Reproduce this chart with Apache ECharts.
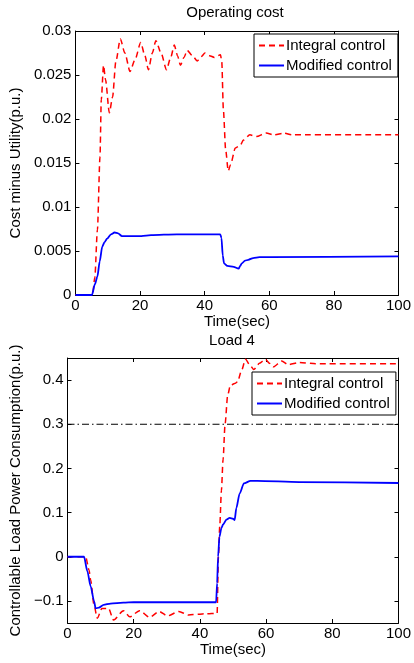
<!DOCTYPE html>
<html>
<head>
<meta charset="utf-8">
<script src="https://cdn.jsdelivr.net/npm/echarts@6/dist/echarts.min.js"></script>
<style>html,body{margin:0;padding:0;background:#fff;}#c{width:414px;height:663px;}</style>
</head>
<body>
<div id="c"></div>
<script>
// ---- Data ----
var topTitle = 'Operating cost';
var bottomTitle = 'Load 4';
var seriesNames = ['Integral control', 'Modified control'];
var xTicks = [0, 20, 40, 60, 80, 100];
var topYTicks = [0, 0.005, 0.01, 0.015, 0.02, 0.025, 0.03];
var bottomYTicks = [-0.1, 0, 0.1, 0.2, 0.3, 0.4];
var limitValue = 0.3;

// Operating cost, integral control
var topIntT = [0,5.3,6.0,6.8,7.6,8.0,8.7,9.3,10.5,11.5,12.5,13.9,15.3,16.9,18.5,20.2,21.5,22.6,23.8,24.9,26.5,28.2,29.5,30.6,31.6,32.5,33.6,34.6,36.2,37.7,39.0,40.1,41.5,43.0,44.9,45.3,45.8,46.5,47.3,48.0,49.5,51.0,52.0,54.0,56.0,59.0,61.5,64.6,67.0,100];
var topIntV = [0,0,0.002,0.0074,0.0157,0.0222,0.0261,0.0245,0.0207,0.0225,0.0265,0.0291,0.0275,0.0254,0.0268,0.0287,0.0272,0.0256,0.0275,0.0289,0.0275,0.0256,0.0270,0.0284,0.0272,0.0261,0.0270,0.0278,0.0272,0.0266,0.0271,0.0275,0.0272,0.0270,0.0273,0.0265,0.0210,0.0165,0.0141,0.0148,0.0167,0.0170,0.0176,0.0182,0.0180,0.0184,0.0182,0.0184,0.0182,0.0182];
// Operating cost, modified control
var topModT = [0,5.1,6.0,6.8,7.5,8.3,9.0,9.8,11.0,12.1,13.2,14.4,17,20.4,23.4,31.4,44.8,45.2,45.6,46.0,47.0,49.0,50.5,51.0,51.5,52.5,53.5,55,57,60,100];
var topModV = [0,0,0.0012,0.0021,0.0038,0.0055,0.0060,0.0064,0.0069,0.0071,0.0070,0.0067,0.0067,0.0067,0.0068,0.0069,0.0069,0.0065,0.0045,0.0036,0.0033,0.0032,0.0030,0.0033,0.0036,0.0039,0.0040,0.0042,0.0043,0.0043,0.0044];
// Load 4, integral control
var botIntT = [0,5.5,6.5,7,8,9,10.4,12.4,13.9,16.9,18.8,21.8,24.8,27.7,30.2,33.6,36.6,39.5,42,45.2,45.6,46.0,46.5,47.0,47.6,48.4,49.2,50.5,51.4,52.5,53.8,55.0,56.3,58,59.8,61,62.2,64.7,66.7,70.1,75,100];
var botIntV = [0,0,-0.03,-0.053,-0.109,-0.139,-0.117,-0.117,-0.143,-0.122,-0.136,-0.122,-0.137,-0.124,-0.134,-0.124,-0.132,-0.130,-0.129,-0.128,0.0,0.07,0.15,0.22,0.30,0.366,0.388,0.392,0.396,0.42,0.447,0.435,0.424,0.438,0.447,0.438,0.430,0.443,0.435,0.440,0.437,0.437];
// Load 4, modified control
var botModT = [0,5.0,6,7,8,8.5,9.5,10.9,13,16.9,20,30,44.9,45.2,45.5,45.9,46.5,47,48,49,50,50.5,51,52,53.3,55.3,57.3,70,100];
var botModV = [0,0,-0.033,-0.067,-0.1,-0.117,-0.115,-0.109,-0.106,-0.104,-0.103,-0.103,-0.103,-0.06,0.0,0.045,0.065,0.073,0.084,0.088,0.086,0.083,0.11,0.143,0.166,0.172,0.172,0.169,0.167];

function pairs(t, v) { return t.map(function (x, i) { return [x, v[i]]; }); }

var FONT = 'Liberation Sans, Arial, Helvetica, sans-serif';
var axisLineStyle = { color: '#000', width: 1 };

function xAx(grid, pos, showLabels, name) {
  return {
    type: 'value', gridIndex: grid, position: pos, min: 0, max: 100, interval: 20,
    axisLine: { show: true, onZero: false, lineStyle: axisLineStyle },
    axisTick: { show: true, inside: true, length: 4, lineStyle: axisLineStyle },
    axisLabel: { show: showLabels, margin: 3, fontSize: 15, color: '#000', fontFamily: FONT },
    splitLine: { show: false },
    name: name || '', nameLocation: 'middle', nameGap: 19,
    nameTextStyle: { fontSize: 15, color: '#000', fontFamily: FONT }
  };
}
function fmtBottom(v) {
  if (Math.abs(v) < 1e-9) return '0';
  return (v < 0 ? '\u2212' : '') + Math.abs(v).toFixed(1);
}
function yAx(grid, pos, showLabels, min, max, ticks, name, gap, fmt) {
  return {
    type: 'value', gridIndex: grid, position: pos, min: min, max: max,
    axisLine: { show: true, onZero: false, lineStyle: axisLineStyle },
    axisTick: { show: true, inside: true, length: 4, lineStyle: axisLineStyle, customValues: ticks },
    axisLabel: { show: showLabels, margin: 4, fontSize: 15, color: '#000', fontFamily: FONT, customValues: ticks, formatter: fmt },
    splitLine: { show: false },
    name: name || '', nameLocation: 'middle', nameGap: gap || 0,
    nameTextStyle: { fontSize: 15, color: '#000', fontFamily: FONT }
  };
}

var redStyle = { color: '#ff0000', width: 1.5, type: [6, 4] };
var blueStyle = { color: '#0000ff', width: 1.8, type: 'solid' };

function lineSeries(name, xi, yi, data, style) {
  return {
    name: name, type: 'line', xAxisIndex: xi, yAxisIndex: yi, data: data,
    symbol: 'none', showSymbol: false, smooth: 0.25, smoothMonotone: 'x',
    lineStyle: style, itemStyle: { color: style.color }, animation: false
  };
}

function legendAt(left, top) {
  return {
    left: left, top: top, orient: 'vertical', data: seriesNames,
    backgroundColor: '#fff', borderColor: '#000', borderWidth: 1,
    padding: [4, 6, 4, 4], itemWidth: 25, itemHeight: 14, itemGap: 5,
    textStyle: { fontSize: 15, color: '#000', fontFamily: FONT, padding: [0, 0, 0, -3] },
    itemStyle: { opacity: 0 }
  };
}

var chart = echarts.init(document.getElementById('c'), null, { renderer: 'canvas' });
chart.setOption({
  animation: false,
  backgroundColor: '#fff',
  title: [
    { text: topTitle, left: 235, top: 5, textAlign: 'center', padding: 0,
      textStyle: { fontSize: 15, fontWeight: 'normal', color: '#000', fontFamily: FONT } },
    { text: bottomTitle, left: 232, top: 333, textAlign: 'center', padding: 0,
      textStyle: { fontSize: 15, fontWeight: 'normal', color: '#000', fontFamily: FONT } }
  ],
  legend: [legendAt(254, 34), legendAt(252, 372)],
  grid: [
    { left: 69, top: 31, width: 332, height: 264, containLabel: false },
    { left: 63, top: 358, width: 338, height: 265, containLabel: false }
  ],
  xAxis: [
    xAx(0, 'bottom', true, 'Time(sec)'),
    xAx(0, 'top', false),
    xAx(1, 'bottom', true, 'Time(sec)'),
    xAx(1, 'top', false)
  ],
  yAxis: [
    yAx(0, 'left', true, 0, 0.03, topYTicks, 'Cost minus Utility(p.u.)', 47),
    yAx(0, 'right', false, 0, 0.03, topYTicks),
    yAx(1, 'left', true, -0.15, 0.45, bottomYTicks, 'Controllable Load Power Consumption(p.u.)', 39, fmtBottom),
    yAx(1, 'right', false, -0.15, 0.45, bottomYTicks)
  ],
  series: [
    lineSeries(seriesNames[0], 0, 0, pairs(topIntT, topIntV), redStyle),
    lineSeries(seriesNames[1], 0, 0, pairs(topModT, topModV), blueStyle),
    {
      name: 'limit', type: 'line', xAxisIndex: 2, yAxisIndex: 2,
      data: [[xTicks[0], limitValue], [xTicks[xTicks.length - 1], limitValue]],
      symbol: 'none', lineStyle: { color: '#000', width: 1, type: [7, 3, 1.5, 3] }, z: 1
    },
    lineSeries(seriesNames[0], 2, 2, pairs(botIntT, botIntV), redStyle),
    lineSeries(seriesNames[1], 2, 2, pairs(botModT, botModV), blueStyle)
  ]
});
</script>
</body>
</html>
